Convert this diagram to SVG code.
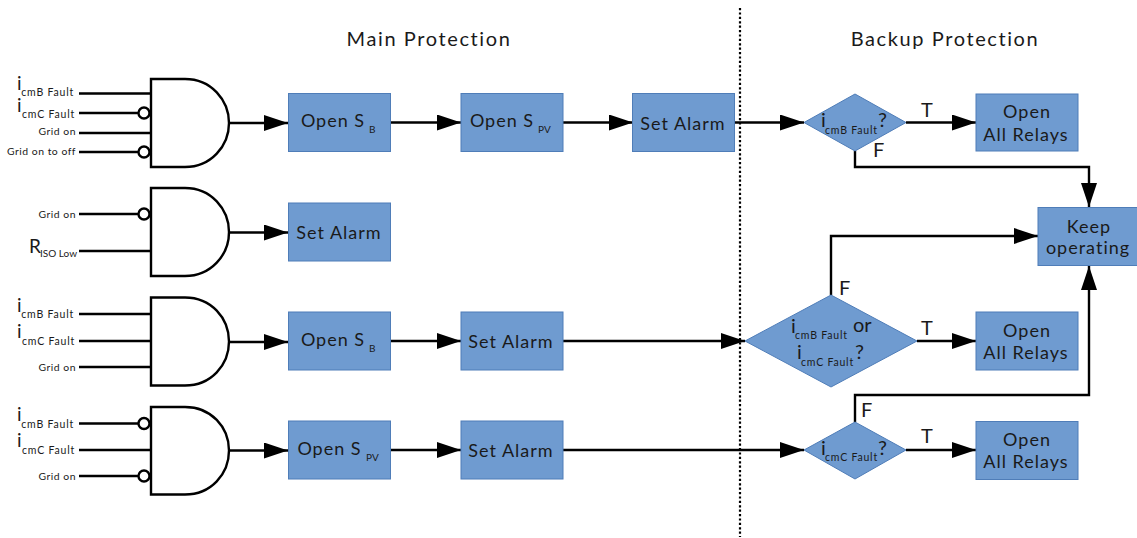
<svg xmlns="http://www.w3.org/2000/svg" width="1137" height="538" viewBox="0 0 1137 538">
<style>
text{font-family:Lato,"Liberation Sans",sans-serif;fill:#1a1a1a}
.box{fill:#6f9bd0;stroke:#4f7db8;stroke-width:1}
.gate{fill:#fff;stroke:#000;stroke-width:2.4}
.bub{fill:#fff;stroke:#000;stroke-width:2.4}
.in{stroke:#000;stroke-width:2.4;fill:none}
.c{stroke:#000;stroke-width:2.4;fill:none;marker-end:url(#a)}
.l{font-size:18px;text-anchor:middle;letter-spacing:1px}
.h{font-size:20px;text-anchor:middle;letter-spacing:1.6px}
.s{font-size:10.500px;letter-spacing:.8px}
.g{font-size:10.400px;letter-spacing:.5px;text-anchor:end}
.m{font-size:19px}
.b{font-size:10px}
.q{font-size:20px}
</style>
<defs>
<marker id="a" markerUnits="userSpaceOnUse" markerWidth="25" markerHeight="18" refX="24" refY="8" orient="auto"><path d="M0 0L24 8L0 16Z" fill="#000"/></marker>
</defs>
<g id="dividers"><line x1="740" y1="8" x2="740" y2="537" stroke="#000" stroke-width="2.2" stroke-dasharray="2.2 2.2"/></g>
<g id="titles">
<text class="h" x="429" y="46">Main Protection</text>
<text class="h" x="945" y="46">Backup Protection</text>
</g>
<g id="connectors">
<path class="in" d="M79 93.500H151M79 113H139M79 133H151M79 152H139M79 214H139M79 251H151M79 314H151M79 341H151M79 367H151M79 423.500H139M79 450H151M79 476H139"/>
<path class="c" d="M229 123H288"/>
<path class="c" d="M229 232.500H288"/>
<path class="c" d="M229 342H288"/>
<path class="c" d="M229 450.500H288"/>
<path class="c" d="M390 122.500H461"/>
<path class="c" d="M562 122.500H633"/>
<path class="c" d="M734 122.500H804"/>
<path class="c" d="M390 341H461"/>
<path class="c" d="M562 341H745"/>
<path class="c" d="M390 450H461"/>
<path class="c" d="M562 450H804"/>
<path class="c" d="M906 122.500H976"/>
<path class="c" d="M917 341H976"/>
<path class="c" d="M906 450H976"/>
<path class="c" d="M855 151V167H1089V207"/>
<path class="c" d="M831 295V236H1038"/>
<path class="c" d="M855 422V395H1089V266"/>
</g>
<g id="gate1"><path class="gate" d="M151 79H185C211 79 229 100 229 123C229 146 211 167 185 167H151Z"/><circle class="bub" cx="144" cy="113" r="5.500"/><circle class="bub" cx="144" cy="152" r="5.500"/>
<text x="74" y="96" text-anchor="end" class="s">cmB Fault</text><text x="17" y="90" class="m">i</text>
<text x="75" y="118" text-anchor="end" class="s">cmC Fault</text><text x="17" y="111.500" class="m">i</text>
<text x="76" y="135" class="g">Grid on</text>
<text x="76" y="155" class="g">Grid on to off</text></g>
<g id="gate2"><path class="gate" d="M151 188H185C211 188 229 209 229 232C229 255 211 276 185 276H151Z"/><circle class="bub" cx="144" cy="214" r="5.500"/>
<text x="76" y="218" class="g">Grid on</text>
<text x="29" y="253" class="m">R</text><text x="77" y="257" text-anchor="end" class="b">ISO Low</text></g>
<g id="gate3"><path class="gate" d="M151 297.500H185C211 297.500 229 318 229 341.500C229 365 211 385.500 185 385.500H151Z"/>
<text x="74" y="318" text-anchor="end" class="s">cmB Fault</text><text x="17" y="312" class="m">i</text>
<text x="75" y="345" text-anchor="end" class="s">cmC Fault</text><text x="17" y="338" class="m">i</text>
<text x="76" y="371" class="g">Grid on</text></g>
<g id="gate4"><path class="gate" d="M151 407H185C211 407 229 427 229 450.500C229 474 211 494.500 185 494.500H151Z"/><circle class="bub" cx="144" cy="423.500" r="5.500"/><circle class="bub" cx="144" cy="476" r="5.500"/>
<text x="74" y="428" text-anchor="end" class="s">cmB Fault</text><text x="17" y="421" class="m">i</text>
<text x="75" y="454" text-anchor="end" class="s">cmC Fault</text><text x="17" y="447" class="m">i</text>
<text x="76" y="480" class="g">Grid on</text></g>
<g id="open-sb-1"><rect class="box" x="288.500" y="93.500" width="102" height="58"/><text class="l" x="333" y="127">Open S</text><text x="369" y="133" class="b">B</text></g>
<g id="open-spv-1"><rect class="box" x="461" y="93.500" width="102" height="58"/><text class="l" x="502" y="127">Open S</text><text x="538" y="133" class="b">PV</text></g>
<g id="set-alarm-1"><rect class="box" x="632.500" y="93.500" width="102" height="58"/><text class="l" x="683" y="130">Set Alarm</text></g>
<g id="set-alarm-2"><rect class="box" x="288.500" y="203" width="102" height="58"/><text class="l" x="339" y="239">Set Alarm</text></g>
<g id="open-sb-2"><rect class="box" x="288.500" y="312" width="102" height="58"/><text class="l" x="333" y="346">Open S</text><text x="369" y="352" class="b">B</text></g>
<g id="set-alarm-3"><rect class="box" x="461" y="312" width="102" height="58"/><text class="l" x="511" y="348">Set Alarm</text></g>
<g id="open-spv-2"><rect class="box" x="288.500" y="421" width="102" height="58"/><text class="l" x="329.500" y="455">Open S</text><text x="366" y="461" class="b">PV</text></g>
<g id="set-alarm-4"><rect class="box" x="461" y="421" width="102" height="58"/><text class="l" x="511" y="457">Set Alarm</text></g>
<g id="decision-1"><path class="box" d="M804 122.500L855 94L906 122.500L855 151Z"/><text x="821" y="127" font-size="20">i</text><text x="825" y="134" class="s">cmB Fault</text><text x="878" y="127" font-size="20">?</text></g>
<g id="decision-2"><path class="box" d="M745 341L831 295L917 341L831 387Z"/><text x="791" y="333" font-size="20">i</text><text x="795" y="339" class="s">cmB Fault</text><text x="853" y="332" font-size="20">or</text><text x="797" y="359" font-size="20">i</text><text x="801" y="366" class="s">cmC Fault</text><text x="855" y="359" font-size="20">?</text></g>
<g id="decision-3"><path class="box" d="M804 450L855 422L906 450L855 479Z"/><text x="821" y="455" font-size="20">i</text><text x="825" y="461" class="s">cmC Fault</text><text x="878" y="455" font-size="20">?</text></g>
<g id="open-relays-1"><rect class="box" x="976" y="94" width="102" height="57"/><text class="l" x="1027" y="118">Open</text><text class="l" x="1026" y="141">All Relays</text></g>
<g id="open-relays-2"><rect class="box" x="976" y="312" width="102" height="58"/><text class="l" x="1027" y="337">Open</text><text class="l" x="1026" y="359">All Relays</text></g>
<g id="open-relays-3"><rect class="box" x="976" y="421.500" width="102" height="58"/><text class="l" x="1027" y="446">Open</text><text class="l" x="1026" y="468">All Relays</text></g>
<g id="keep-operating"><rect class="box" x="1038" y="207.500" width="100" height="58"/><text class="l" x="1089" y="233">Keep</text><text class="l" x="1088" y="254">operating</text></g>
<g id="edge-labels">
<text class="q" x="921" y="117">T</text><text class="q" x="873" y="157">F</text>
<text class="q" x="839" y="295">F</text><text class="q" x="921" y="335">T</text>
<text class="q" x="861" y="417">F</text><text class="q" x="921" y="443">T</text>
</g>
</svg>
